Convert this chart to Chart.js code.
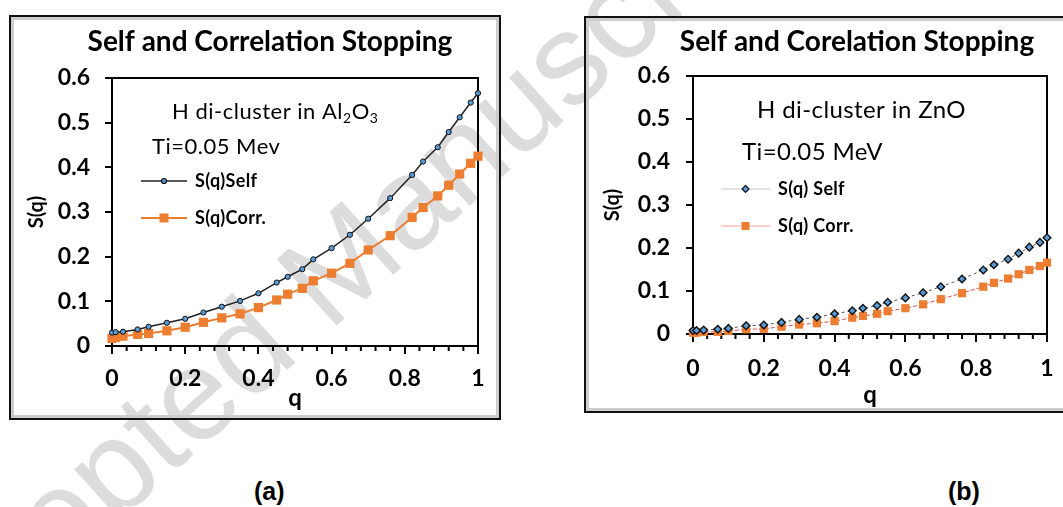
<!DOCTYPE html>
<html lang="en">
<head>
<meta charset="UTF-8">
<title>Self and Correlation Stopping</title>
<script src="https://cdn.jsdelivr.net/npm/chart.js"></script>
<style>
  html, body { margin: 0; padding: 0; background: #fff; overflow: hidden; }
  body { width: 1063px; height: 507px; position: relative; }
  .panel { position: absolute; z-index: 1; border: 2px solid #111; box-shadow: inset 0 0 0 3px #cdcdcd; }
  #panelA { left: 9px; top: 15px; width: 488px; height: 401px; }
  #panelB { left: 584px; top: 16px; width: 486px; height: 393px; }
  .panel canvas { position: absolute; left: 0; top: 0; }
  #watermark {
    position: absolute; z-index: 0; left: 320px; top: 280px;
    transform: translate(-50%, -50%) rotate(-42deg);
    font: 130px "Liberation Sans", Arial, sans-serif; color: #dcdcdc; white-space: nowrap;
  }
  .tag { position: absolute; top: 477px; font: bold 25px "Liberation Sans", Arial, sans-serif; color: #000; }
</style>
</head>
<body>
  <div id="watermark">Accepted Manuscript</div>
  <div class="panel" id="panelA"><canvas id="chartA" width="488" height="401"></canvas></div>
  <div class="panel" id="panelB"><canvas id="chartB" width="486" height="393"></canvas></div>
  <div class="tag" style="left:254px">(a)</div>
  <div class="tag" style="left:948px">(b)</div>
<script>
// momentum transfer fraction q (same points in both panels)
const qValues = [0, 0.01, 0.03, 0.07, 0.1, 0.15, 0.2, 0.25, 0.3, 0.35, 0.4, 0.45, 0.48,
                 0.52, 0.55, 0.6, 0.65, 0.7, 0.76, 0.82, 0.85, 0.89, 0.92, 0.95, 0.98, 1.0];

// (a) H di-cluster in Al2O3
const selfAl2O3 = [0.030, 0.031, 0.032, 0.037, 0.043, 0.052, 0.061, 0.075, 0.088, 0.101, 0.118, 0.142, 0.155,
                   0.172, 0.194, 0.219, 0.249, 0.285, 0.331, 0.383, 0.413, 0.445, 0.479, 0.512, 0.545, 0.566];
const corrAl2O3 = [0.017, 0.019, 0.022, 0.026, 0.028, 0.034, 0.042, 0.053, 0.063, 0.072, 0.086, 0.103, 0.116,
                   0.129, 0.146, 0.163, 0.185, 0.215, 0.247, 0.288, 0.310, 0.336, 0.360, 0.385, 0.409, 0.425];

// (b) H di-cluster in ZnO
const selfZnO = [0.008, 0.008, 0.009, 0.011, 0.013, 0.019, 0.021, 0.027, 0.034, 0.039, 0.047, 0.054, 0.060,
                 0.066, 0.074, 0.084, 0.096, 0.110, 0.128, 0.149, 0.161, 0.174, 0.188, 0.202, 0.213, 0.224];
const corrZnO = [0.003, 0.003, 0.005, 0.005, 0.007, 0.011, 0.012, 0.017, 0.022, 0.025, 0.030, 0.038, 0.042,
                 0.047, 0.053, 0.060, 0.069, 0.081, 0.095, 0.110, 0.119, 0.129, 0.139, 0.149, 0.158, 0.166];

const xTickLabels = ['0', '0.2', '0.4', '0.6', '0.8', '1'];
const yTickLabels = ['0', '0.1', '0.2', '0.3', '0.4', '0.5', '0.6'];

Chart.defaults.font.family = 'Lato, "Open Sans", sans-serif';
Chart.defaults.color = '#000';

const ORANGE = '#ed7d31';
const BLUE = '#5b9bd5';

function toPoints(ys) {
  return qValues.map((q, i) => ({ x: q, y: ys[i] }));
}

// little marker for the hand-drawn legend
function marker(ctx, style, x, y, r, fill, stroke) {
  ctx.save();
  ctx.fillStyle = fill;
  ctx.strokeStyle = stroke;
  ctx.lineWidth = 1.2;
  ctx.beginPath();
  if (style === 'circle') {
    ctx.arc(x, y, r, 0, Math.PI * 2);
  } else if (style === 'rect') {
    ctx.rect(x - r, y - r, 2 * r, 2 * r);
  } else {
    ctx.moveTo(x, y - r); ctx.lineTo(x + r, y); ctx.lineTo(x, y + r); ctx.lineTo(x - r, y); ctx.closePath();
  }
  ctx.fill();
  if (stroke) ctx.stroke();
  ctx.restore();
}

function buildChart(id, cfg) {
  const ctx = document.getElementById(id).getContext('2d');

  const extras = {
    id: 'extras' + id,
    beforeDatasetsDraw(chart) {
      const { ctx, chartArea: a } = chart;
      ctx.save();
      ctx.strokeStyle = '#000';
      ctx.lineWidth = 2;
      ctx.strokeRect(a.left, a.top, a.right - a.left, a.bottom - a.top);
      // minor ticks on q axis
      const xs = chart.scales.x;
      for (let k = 1; k < 25; k++) {
        if (k % 5 === 0) continue;
        const px = xs.getPixelForValue(k * 0.04);
        ctx.beginPath();
        ctx.moveTo(px, a.bottom);
        ctx.lineTo(px, a.bottom + 5);
        ctx.stroke();
      }
      ctx.restore();
    },
    afterDraw(chart) {
      const ctx = chart.ctx;
      ctx.save();
      ctx.fillStyle = '#000';
      ctx.textBaseline = 'middle';
      // chart title
      ctx.textAlign = 'center';
      ctx.font = 'bold 28px Lato';
      ctx.fillText(cfg.title, cfg.titleX, cfg.titleY);

      // annotation lines
      ctx.textAlign = 'left';
      ctx.letterSpacing = cfg.noteSpacing;
      let x = cfg.noteX;
      cfg.note.forEach(part => {
        const small = part.sub;
        ctx.font = (small ? Math.round(cfg.noteSize * 0.65) : cfg.noteSize) + 'px Lato';
        ctx.fillText(part.t, x, cfg.noteY + (small ? 6 : 0));
        x += ctx.measureText(part.t).width;
      });
      ctx.font = cfg.noteSize + 'px Lato';
      ctx.fillText(cfg.energy, cfg.energyX, cfg.energyY);

      // legend
      ctx.letterSpacing = '0.3px';
      cfg.legend.forEach(item => {
        ctx.save();
        ctx.strokeStyle = item.line;
        ctx.lineWidth = item.lineWidth;
        ctx.beginPath();
        ctx.moveTo(cfg.legX, item.y);
        ctx.lineTo(cfg.legX + cfg.legLen, item.y);
        ctx.stroke();
        ctx.restore();
        marker(ctx, item.style, cfg.legX + cfg.legLen / 2, item.y, item.r, item.fill, item.stroke);
        ctx.font = 'bold 18px Lato';
        ctx.fillText(item.label, cfg.legX + cfg.legLen + 8, item.y);
      });
      ctx.restore();
    }
  };

  return new Chart(ctx, {
    type: 'line',
    data: {
      datasets: [
        Object.assign({ label: cfg.legend[0].label, data: toPoints(cfg.self), clip: false }, cfg.selfStyle),
        Object.assign({ label: cfg.legend[1].label, data: toPoints(cfg.corr), clip: false }, cfg.corrStyle)
      ]
    },
    options: {
      responsive: false,
      animation: false,
      layout: { padding: cfg.padding },
      plugins: { legend: { display: false }, tooltip: { enabled: false }, title: { display: false } },
      scales: {
        x: {
          type: 'linear', min: 0, max: 1,
          afterFit: s => { s.height = cfg.xHeight; },
          ticks: { stepSize: 0.2, autoSkip: false, maxRotation: 0, padding: cfg.xTickPad,
                   font: { size: 23, weight: 'bold' }, callback: (v, i) => xTickLabels[i] },
          grid: { drawOnChartArea: false, color: '#000', lineWidth: 2, tickLength: 8 },
          border: { color: '#000', width: 2 },
          title: { display: true, text: 'q', font: { size: 24, weight: 'bold' }, padding: { top: 0, bottom: cfg.qPad } }
        },
        y: {
          min: 0, max: 0.6,
          afterFit: s => { s.width = cfg.yWidth; },
          ticks: { stepSize: 0.1, padding: cfg.yTickPad, font: { size: 23, weight: 'bold' },
                   callback: (v, i) => yTickLabels[i] },
          grid: { drawOnChartArea: false, color: '#000', lineWidth: 2, tickLength: 7 },
          border: { color: '#000', width: 2 },
          title: { display: true, text: 'S(q)', font: { size: 20, weight: 'bold' }, padding: { top: cfg.sPad, bottom: 0 } }
        }
      }
    },
    plugins: [extras]
  });
}

buildChart('chartA', {
  self: selfAl2O3, corr: corrAl2O3,
  padding: { left: 5, right: 21, top: 61, bottom: 0 },
  yWidth: 96, xHeight: 72, xTickPad: 11, yTickPad: 15, qPad: 5, sPad: 9,
  title: 'Self and Correlation Stopping', titleX: 259, titleY: 25,
  note: [{ t: 'H di-cluster in Al' }, { t: '2', sub: true }, { t: 'O' }, { t: '3', sub: true }],
  noteX: 161, noteY: 95, noteSize: 22, noteSpacing: '0.5px',
  energy: 'Ti=0.05 Mev', energyX: 141, energyY: 130,
  legX: 130, legLen: 46,
  legend: [
    { label: 'S(q)Self', y: 164, line: '#222', lineWidth: 1.5, style: 'circle', r: 2.5, fill: BLUE, stroke: '#111' },
    { label: 'S(q)Corr.', y: 201, line: ORANGE, lineWidth: 2, style: 'rect', r: 4.5, fill: ORANGE, stroke: null }
  ],
  selfStyle: { borderColor: '#222', borderWidth: 1.5, pointStyle: 'circle', pointRadius: 2.6,
               pointBackgroundColor: BLUE, pointBorderColor: '#111', pointBorderWidth: 1 },
  corrStyle: { borderColor: ORANGE, borderWidth: 2, pointStyle: 'rect', pointRadius: 6.5,
               pointBackgroundColor: ORANGE, pointBorderColor: ORANGE, pointBorderWidth: 0 }
});

buildChart('chartB', {
  self: selfZnO, corr: corrZnO,
  padding: { left: 5, right: 25, top: 58, bottom: 0 },
  yWidth: 102, xHeight: 77, xTickPad: 13, yTickPad: 16, qPad: 1, sPad: 10,
  title: 'Self and Corelation Stopping', titleX: 271, titleY: 24,
  note: [{ t: 'H di-cluster in ZnO' }],
  noteX: 171, noteY: 92, noteSize: 24, noteSpacing: '0.4px',
  energy: 'Ti=0.05 MeV', energyX: 156, energyY: 134,
  legX: 135, legLen: 49,
  legend: [
    { label: 'S(q) Self', y: 171, line: '#c8c8c8', lineWidth: 1, style: 'diamond', r: 3.5, fill: BLUE, stroke: '#111' },
    { label: 'S(q) Corr.', y: 208, line: '#f2a0a0', lineWidth: 1, style: 'rect', r: 4, fill: ORANGE, stroke: null }
  ],
  selfStyle: { borderColor: '#555', borderWidth: 1, borderDash: [3, 3], pointStyle: 'rectRot', pointRadius: 3.8,
               pointBackgroundColor: BLUE, pointBorderColor: '#111', pointBorderWidth: 1.4 },
  corrStyle: { borderColor: '#e05050', borderWidth: 1, borderDash: [4, 2], pointStyle: 'rect', pointRadius: 5.8,
               pointBackgroundColor: ORANGE, pointBorderColor: ORANGE, pointBorderWidth: 0 }
});
</script>
</body>
</html>
